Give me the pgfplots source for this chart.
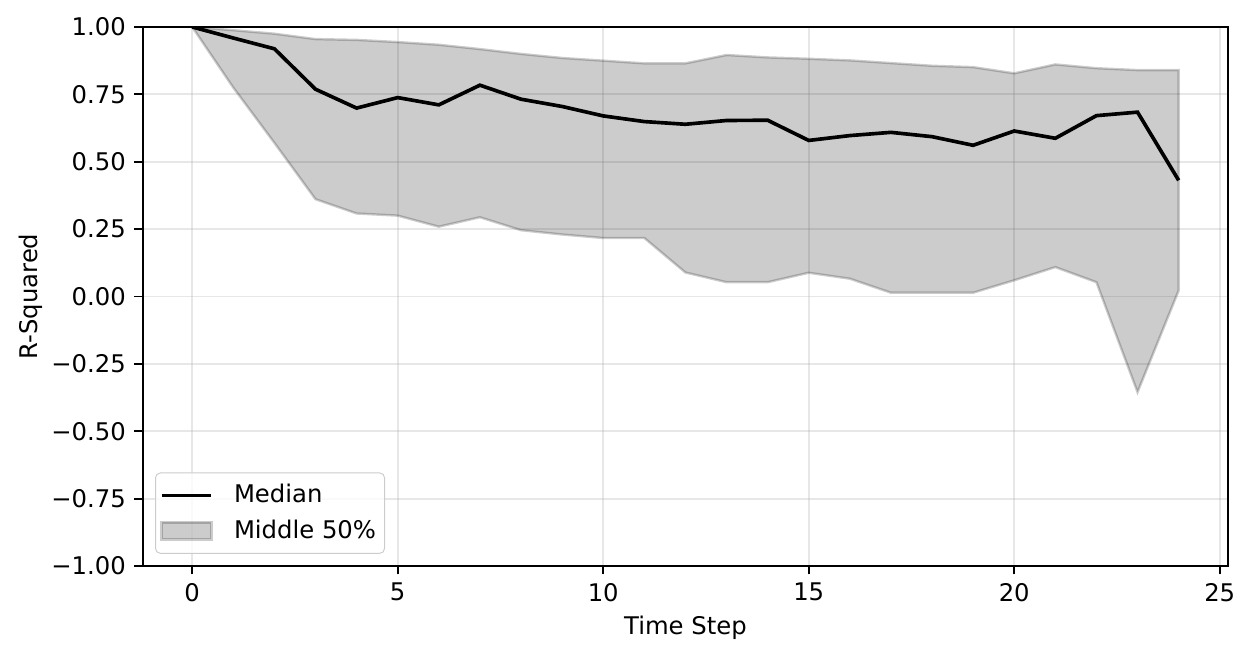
\documentclass[border=0pt]{standalone}
\usepackage{fontspec}
\setmainfont{DejaVu Sans}
\usepackage{pgfplots}
\pgfplotsset{compat=1.18}
\definecolor{gridc}{RGB}{176,176,176}
\definecolor{legc}{RGB}{204,204,204}
\begin{document}
\begin{tikzpicture}
\begin{axis}[
  scale only axis, width=446.5pt, height=221.8pt,
  xmin=-1.2, xmax=25.2, ymin=-1, ymax=1,
  xtick={0,5,10,15,20,25},
  ytick={-1,-0.75,-0.5,-0.25,0,0.25,0.5,0.75,1},
  yticklabels={−1.00,−0.75,−0.50,−0.25,0.00,0.25,0.50,0.75,1.00},
  /pgf/number format/assume math mode=true,
  tick label style={font=\fontsize{10}{12}\selectfont},
  label style={font=\fontsize{10}{12}\selectfont},
  tick align=outside, major tick length=3.5pt,
  tick style={black, line width=0.8pt},
  xtick pos=bottom, ytick pos=left,
  axis line style={line width=0.8pt},
  grid=major, grid style={gridc, opacity=0.3, line width=0.8pt},
  xlabel={Time Step}, ylabel={R-Squared},
  every axis x label/.style={at={(axis description cs:0.5,0)}, yshift=-25.5pt, anchor=center},
  every axis y label/.style={at={(axis description cs:0,0.5)}, xshift=-46pt, rotate=90, anchor=center},
  legend cell align=left,
  legend style={at={(0,0)}, anchor=south west, xshift=5pt, yshift=5pt,
    draw=legc, rounded corners=2pt, fill=white, fill opacity=0.8, text opacity=1,
    font=\fontsize{10}{12}\selectfont, inner xsep=1.5pt, inner ysep=3.7pt, row sep=3.5pt,
    nodes={inner xsep=4pt, inner ysep=1pt}},
]
\addplot[fill=black, draw=black, opacity=0.2, line width=1pt, forget plot] coordinates {
(0,1.0)(1,0.988)(2,0.975)(3,0.955)(4,0.952)(5,0.944)(6,0.934)(7,0.918)(8,0.900)(9,0.885)(10,0.875)(11,0.865)(12,0.865)(13,0.896)(14,0.887)(15,0.882)(16,0.876)(17,0.866)(18,0.856)(19,0.851)(20,0.828)(21,0.861)(22,0.847)(23,0.840)(24,0.840)
(24,0.022)(23,-0.355)(22,0.053)(21,0.109)(20,0.060)(19,0.014)(18,0.014)(17,0.014)(16,0.066)(15,0.088)(14,0.053)(13,0.053)(12,0.089)(11,0.217)(10,0.217)(9,0.230)(8,0.246)(7,0.294)(6,0.259)(5,0.300)(4,0.308)(3,0.361)(2,0.57)(1,0.775)(0,1.0)
} -- cycle;
\addplot[black, line width=1.5pt, legend image code/.code={\path[draw=none, fill=none] (0pt,0pt) -- (24.3pt,0pt);\draw[black, line width=1.5pt, sharp corners] (1pt,0pt) -- (21.5pt,0pt);}] coordinates {
(0,1.0)(1,0.959)(2,0.919)(3,0.769)(4,0.699)(5,0.738)(6,0.711)(7,0.784)(8,0.732)(9,0.705)(10,0.670)(11,0.649)(12,0.639)(13,0.653)(14,0.654)(15,0.579)(16,0.597)(17,0.609)(18,0.593)(19,0.561)(20,0.614)(21,0.587)(22,0.671)(23,0.684)(24,0.431)
};
\addlegendentry{\hspace*{2.5pt}Median}
\addlegendimage{legend image code/.code={\path[draw=none, fill=none] (0pt,0pt) -- (24.3pt,0pt);\draw[fill=black, draw=black, opacity=0.2, line width=1pt, sharp corners] (1pt,-3.5pt) rectangle (21.5pt,3.5pt);}}
\addlegendentry{\hspace*{2.5pt}Middle 50\%\hspace*{-2pt}}
\end{axis}
\pgfresetboundingbox
\path ([shift={(-58.8pt,-37.9pt)}]current axis.south west) rectangle ([shift={(9.9pt,11.1pt)}]current axis.north east);
\end{tikzpicture}
\end{document}
